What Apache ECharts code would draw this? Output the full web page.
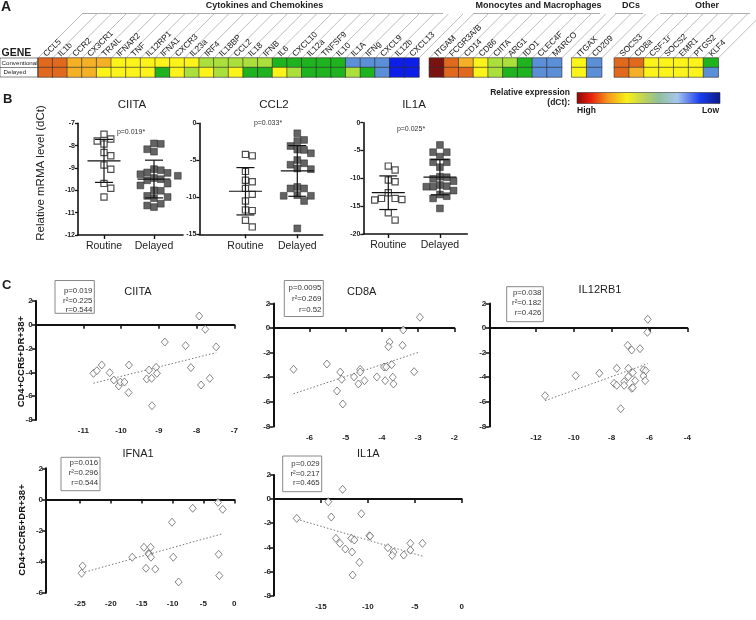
<!DOCTYPE html>
<html><head><meta charset="utf-8">
<script src="https://cdn.jsdelivr.net/npm/echarts@6/dist/echarts.min.js"></script>
<style>html,body{margin:0;padding:0;background:#fff}#c{width:756px;height:620px}</style>
</head><body><div id="c"></div>
<script>
// ================= DATA =================
// Panel A: heatmap levels (1 = highest expression ... 8 = lowest)
const rowNames = ['Delayed', 'Conventional'];
const genesCyto = ['CCL5','IL1b','CCR2','CX3CR1','TRAIL','IFNAR2','TNF','IL12RP1','IFNA1','CXCR3','IL23a','IRF4','IL18BP','CCL2','IL18','IFNB','IL6','CXCL10','IL12a','TNFSF9','IL10','IL1A','IFNg','CXCL9','IL12b','CXCL13'];
const convCyto  = [2,2,3,3,3,4,4,4,4,4,4,5,5,5,5,5,6,6,6,6,6,7,7,7,8,8];
const delCyto   = [2,2,3,3,4,4,4,4,6,4,5,4,5,4,6,6,4,5,6,6,6,5,6,7,8,8];
const genesMono = ['ITGAM','FCGR3A/B','CD14','CD86','CIITA','ARG1','IDO1','CLEC4F','MARCO'];
const convMono  = [1,2,3,4,5,5,6,7,7];
const delMono   = [1,2,2,4,5,6,6,7,7];
const genesDC   = ['ITGAX','CD209'];
const convDC    = [4,7];
const delDC     = [4,7];
const genesOther = ['SOCS3','CD8a','CSF-1r','SOCS2','EMR1','PTGS2','KLF4'];
const convOther  = [2,2,4,4,4,4,6];
const delOther   = [2,3,4,4,4,4,7];

// Panel B: relative mRNA level (dCt)
const bGroups = ['Routine', 'Delayed'];
const ciitaRoutine = [-7.49,-7.70,-7.79,-7.93,-8.31,-8.45,-8.87,-9.06,-9.69,-9.91,-10.30];
const ciitaDelayed = [-7.90,-7.92,-8.16,-8.27,-9.05,-9.10,-9.20,-9.22,-9.28,-9.35,-9.45,-9.50,-9.55,-9.70,-9.78,-10.00,-10.02,-10.25,-10.30,-10.35,-10.60,-10.68,-10.75];
const ccl2Routine = [-4.4,-4.2,-6.5,-7.9,-7.7,-8.8,-9.6,-10.5,-11.7,-11.8,-13.1,-14.0];
const ccl2Delayed = [-1.35,-2.25,-2.4,-3.07,-3.55,-3.6,-4.05,-4.96,-5.4,-5.6,-6.1,-6.2,-8.6,-8.8,-8.8,-9.7,-9.8,-9.8,-10.5,-14.2];
const il1aRoutine = [-7.8,-8.5,-10.3,-10.6,-12.6,-13.6,-13.9,-13.6,-13.8,-16.2,-17.5];
const il1aDelayed = [-4.0,-5.3,-5.3,-6.1,-7.1,-7.1,-8.0,-9.7,-9.8,-10.1,-10.5,-11.4,-11.5,-11.2,-11.5,-12.2,-13.2,-12.9,-13.6,-15.4];
const bPvalues = ['p=0.019*', 'p=0.033*', 'p=0.025*'];

// Panel C: gene dCt (x) vs CD4+CCR5+DR+38+ (y)
const cCiitaX = [-7.93,-7.77,-7.48,-8.84,-8.29,-8.15,-7.88,-7.65,-10.73,-10.64,-10.51,-10.30,-10.19,-10.06,-10.02,-9.91,-9.79,-9.80,-9.32,-9.26,-9.19,-9.07,-9.05,-9.18];
const cCiitaY = [0.74,-0.38,-1.86,-1.45,-1.75,-3.60,-5.06,-4.50,-4.08,-3.86,-3.38,-4.02,-4.64,-5.14,-4.81,-4.81,-3.38,-5.70,-4.55,-3.80,-4.50,-3.57,-4.08,-6.80];
const cCd8aX = [-2.95,-3.41,-3.79,-3.82,-3.43,-6.44,-5.52,-5.15,-5.11,-5.24,-5.08,-4.77,-4.60,-4.60,-4.65,-4.48,-4.14,-3.94,-3.88,-3.73,-3.91,-3.70,-3.68,-3.11];
const cCd8aY = [0.87,-0.16,-1.14,-1.52,-1.41,-3.36,-2.93,-3.58,-4.17,-5.12,-6.18,-3.98,-3.36,-3.58,-4.55,-4.28,-3.98,-3.17,-3.17,-2.98,-4.28,-4.00,-4.55,-3.55];
const cIl12X = [-6.09,-6.11,-7.15,-6.94,-6.50,-11.52,-9.90,-8.65,-7.73,-7.12,-6.88,-7.12,-6.32,-6.20,-6.32,-6.23,-6.76,-7.87,-7.73,-7.34,-7.34,-6.94,-6.88,-7.52];
const cIl12Y = [0.71,-0.35,-1.41,-1.79,-1.68,-5.50,-3.88,-3.68,-3.28,-3.28,-3.63,-3.96,-3.41,-3.47,-3.90,-4.28,-4.28,-4.50,-4.66,-4.37,-4.66,-4.90,-4.85,-6.56];
const cIfnaX = [-2.64,-1.88,-6.74,-10.10,-24.57,-24.73,-16.53,-14.64,-13.55,-13.87,-13.82,-13.50,-14.31,-12.80,-9.89,-9.02,-2.53,-2.43];
const cIfnaY = [-0.19,-0.64,-0.57,-1.47,-4.28,-4.75,-3.72,-3.08,-3.08,-3.47,-3.53,-3.72,-4.43,-4.48,-3.72,-5.31,-3.53,-4.90];
const cIl1aX = [-12.69,-14.22,-13.90,-10.69,-17.58,-9.83,-9.76,-13.40,-12.97,-12.40,-11.76,-11.44,-11.68,-10.90,-11.62,-7.87,-7.26,-7.40,-6.18,-5.47,-5.47,-4.18];
const cIl1aY = [0.80,-0.22,-1.49,-1.22,-1.60,-3.04,-3.07,-3.26,-3.67,-4.14,-3.26,-3.40,-4.39,-5.25,-6.30,-4.03,-4.39,-4.67,-4.64,-3.67,-4.23,-3.67];
const cTitles = ['CIITA','CD8A','IL12RB1','IFNA1','IL1A'];
const cStats = [['p=0.019','r²=0.225','r=0.544'],['p=0.0095','r²=0.269','r=0.52'],['p=0.038','r²=0.182','r=0.426'],['p=0.016','r²=0.296','r=0.544'],['p=0.029','r²=0.217','r=0.465']];

// ================= STYLE / LAYOUT =================
const FONT = '"Liberation Sans", Arial, Helvetica, sans-serif';
const TXT = '#1c1c1c';
const levelColors = ['#7a1212','#e0691e','#f4b126','#fbf31a','#abe03c','#1fb41f','#5b8fd8','#0c1ee8'];

const hmGrids = [
  {left:38, top:58, width:381, height:19},
  {left:429.3, top:58, width:132.4, height:19},
  {left:571.7, top:58, width:30, height:19},
  {left:614.3, top:58, width:104, height:19}
];
const bGrids = [
  {left:78, top:123.3, width:105, height:111.7, xmin:0.48, xmax:2.58, ymin:-12, ymax:-7, yint:1},
  {left:199.3, top:123.3, width:123.4, height:111, xmin:0.11, xmax:2.49, ymin:-15, ymax:0, yint:5},
  {left:363.3, top:122.7, width:104, height:111.3, xmin:0.516, xmax:2.53, ymin:-20, ymax:0, yint:5}
];
const cGrids = [
  {left:35.7, top:301, width:198.6, height:119, xmin:-12.26, xmax:-7, ymin:-8, ymax:2, ticks:[-11,-10,-9,-8,-7]},
  {left:273.3, top:303.4, width:181, height:123, xmin:-7, xmax:-2, ymin:-8, ymax:2, ticks:[-6,-5,-4,-3,-2]},
  {left:489.3, top:303.4, width:198, height:123, xmin:-14.47, xmax:-4, ymin:-8, ymax:2, ticks:[-12,-10,-8,-6,-4]},
  {left:46, top:468.3, width:188.3, height:124.4, xmin:-30.5, xmax:0, ymin:-6, ymax:2, ticks:[-25,-20,-15,-10,-5,0]},
  {left:274, top:474.9, width:187.7, height:120.7, xmin:-20, xmax:0, ymin:-8, ymax:2, ticks:[-15,-10,-5,0]}
];

// ================= HELPERS =================
function hmData(conv, del) {
  const d = [];
  conv.forEach((v, i) => d.push([i, 1, v]));
  del.forEach((v, i) => d.push([i, 0, v]));
  return d;
}
function mean(a) { return a.reduce((s, v) => s + v, 0) / a.length; }
function sd(a) { const m = mean(a); return Math.sqrt(a.reduce((s, v) => s + (v - m) * (v - m), 0) / (a.length - 1)); }
// beeswarm layout: spreads near-equal values sideways around a category centre
function swarm(vals, center, g, size) {
  const yppu = g.height / (g.ymax - g.ymin), xppu = g.width / (g.xmax - g.xmin);
  const order = vals.map((v, i) => i).sort((a, b) => vals[b] - vals[a]);
  const placed = [], out = new Array(vals.length);
  for (const i of order) {
    const yp = vals[i] * yppu; let off = 0;
    for (let t = 0; t < 40; t++) {
      off = t === 0 ? 0 : (t % 2 ? 1 : -1) * Math.ceil(t / 2) * size * 0.5;
      if (placed.every(p => Math.abs(p[0] - off) >= size * 1.0 || Math.abs(p[1] - yp) >= size * 1.1)) break;
    }
    placed.push([off, yp]);
    out[i] = [center + off / xppu, vals[i]];
  }
  return out;
}
function fitLine(xs, ys) {
  const mx = mean(xs), my = mean(ys);
  let sxy = 0, sxx = 0;
  xs.forEach((x, i) => { sxy += (x - mx) * (ys[i] - my); sxx += (x - mx) * (x - mx); });
  const b = sxy / sxx, a = my - b * mx;
  const x0 = Math.min(...xs), x1 = Math.max(...xs);
  return [[x0, a + b * x0], [x1, a + b * x1]];
}
function txt(x, y, text, o) {
  return {type:'text', x, y, silent:true, z:100,
    style: Object.assign({text, fill:TXT, fontFamily:FONT, fontSize:10, align:'center', verticalAlign:'middle'}, o || {})};
}
function hline(x1, y1, x2, y2, color, w) {
  return {type:'line', silent:true, z:100, shape:{x1, y1, x2, y2}, style:{stroke:color, lineWidth:w}};
}

// ================= BUILD OPTION =================
const grid = [], xAxis = [], yAxis = [], series = [];

// ---- Panel A heatmaps ----
const hmGenes = [genesCyto, genesMono, genesDC, genesOther];
const hmConv = [convCyto, convMono, convDC, convOther];
const hmDel = [delCyto, delMono, delDC, delOther];
hmGrids.forEach((g, gi) => {
  grid.push({left:g.left, top:g.top, width:g.width, height:g.height, containLabel:false});
  xAxis.push({gridIndex:gi, type:'category', data:hmGenes[gi], position:'top',
    axisLine:{show:false}, axisTick:{show:false}, splitLine:{show:false}, axisLabel:{show:false}});
  yAxis.push({gridIndex:gi, type:'category', data:rowNames, show:false});
});
hmGrids.forEach((g, gi) => {
  series.push({type:'heatmap', xAxisIndex:gi, yAxisIndex:gi, data:hmData(hmConv[gi], hmDel[gi]),
    itemStyle:{borderColor:'#2a2a2a', borderWidth:0.6}, emphasis:{disabled:true}});
});
// slanted gene labels with separators, placed on the category scale
hmGrids.forEach((g, gi) => {
  const names = hmGenes[gi], n = names.length;
  series.push({type:'custom', xAxisIndex:gi, yAxisIndex:gi, silent:true, clip:false, z:5,
    data: names.map((name, i) => [i, 1]),
    renderItem: (p, api) => {
      const i = api.value(0); const c = api.coord([i, 1]); const s = api.size([1, 1]);
      const x0 = c[0] - s[0] / 2, top = c[1] - s[1] / 2, L = 44;
      const st = {stroke:'#a0a0a0', lineWidth:0.7};
      const ch = [{type:'line', shape:{x1:x0, y1:top, x2:x0 + L, y2:top - L}, style:st}];
      if (i === n - 1) ch.push({type:'line', shape:{x1:x0 + s[0], y1:top, x2:x0 + s[0] + L, y2:top - L}, style:st});
      ch.push({type:'text', x:c[0] - 0.5, y:top - 2.5, rotation:Math.PI / 4,
        style:{text:names[i], fill:'#222', fontFamily:FONT, fontSize:8.3, align:'left', verticalAlign:'middle'}});
      return {type:'group', children:ch};
    }});
});

// ---- Panel B ----
const bRoutine = [ciitaRoutine, ccl2Routine, il1aRoutine];
const bDelayed = [ciitaDelayed, ccl2Delayed, il1aDelayed];
bGrids.forEach((g, k) => {
  const gi = 4 + k;
  grid.push({left:g.left, top:g.top, width:g.width, height:g.height});
  xAxis.push({gridIndex:gi, type:'value', min:g.xmin, max:g.xmax,
    axisLine:{onZero:false, lineStyle:{color:'#111', width:1.6}},
    axisTick:{customValues:[1, 2], length:4, lineStyle:{color:'#111', width:1.4}},
    axisLabel:{customValues:[1, 2], formatter:v => bGroups[Math.round(v) - 1], fontSize:10.5, margin:6, color:'#222', fontFamily:FONT},
    splitLine:{show:false}});
  yAxis.push({gridIndex:gi, type:'value', min:g.ymin, max:g.ymax, interval:g.yint,
    axisLine:{show:true, onZero:false, lineStyle:{color:'#111', width:1.6}},
    axisTick:{show:true, length:3, lineStyle:{color:'#111', width:1.3}},
    axisLabel:{fontSize:7, fontWeight:'bold', margin:3, color:'#222', fontFamily:FONT},
    splitLine:{show:false}});
  series.push({type:'scatter', xAxisIndex:gi, yAxisIndex:gi, data:swarm(bRoutine[k], 1, g, 6.8),
    symbol:'rect', symbolSize:6.2, itemStyle:{color:'#fff', borderColor:'#222', borderWidth:1.2}, z:2});
  series.push({type:'scatter', xAxisIndex:gi, yAxisIndex:gi, data:swarm(bDelayed[k], 2, g, 6.8),
    symbol:'rect', symbolSize:6.8, itemStyle:{color:'#3c3c3c', borderColor:'#222', borderWidth:0.6}, z:2});
  series.push({type:'custom', xAxisIndex:gi, yAxisIndex:gi, silent:true, z:3,
    data:[[1, mean(bRoutine[k]), sd(bRoutine[k])], [2, mean(bDelayed[k]), sd(bDelayed[k])]],
    renderItem:(p, api) => {
      const x = api.value(0), m = api.value(1), s = api.value(2);
      const pm = api.coord([x, m]), pu = api.coord([x, m + s]), pl = api.coord([x, m - s]);
      const st = {stroke:'#111', lineWidth:1.2};
      return {type:'group', children:[
        {type:'line', shape:{x1:pm[0] - 16.5, y1:pm[1], x2:pm[0] + 16.5, y2:pm[1]}, style:st},
        {type:'line', shape:{x1:pu[0], y1:pu[1], x2:pl[0], y2:pl[1]}, style:st},
        {type:'line', shape:{x1:pu[0] - 9, y1:pu[1], x2:pu[0] + 9, y2:pu[1]}, style:st},
        {type:'line', shape:{x1:pl[0] - 9, y1:pl[1], x2:pl[0] + 9, y2:pl[1]}, style:st}
      ]};
    }});
});

// ---- Panel C ----
const cXs = [cCiitaX, cCd8aX, cIl12X, cIfnaX, cIl1aX];
const cYs = [cCiitaY, cCd8aY, cIl12Y, cIfnaY, cIl1aY];
cGrids.forEach((g, k) => {
  const gi = 7 + k;
  grid.push({left:g.left, top:g.top, width:g.width, height:g.height});
  xAxis.push({gridIndex:gi, type:'value', min:g.xmin, max:g.xmax,
    axisLine:{onZero:true, lineStyle:{color:'#111', width:2}},
    axisTick:{customValues:g.ticks, length:4, lineStyle:{color:'#111', width:1.5}},
    axisLabel:{customValues:g.ticks, fontSize:8, fontWeight:'bold', margin:7, color:'#222', fontFamily:FONT},
    splitLine:{show:false}});
  yAxis.push({gridIndex:gi, type:'value', min:g.ymin, max:g.ymax, interval:2,
    axisLine:{show:true, onZero:false, lineStyle:{color:'#111', width:2}},
    axisTick:{show:true, length:4, lineStyle:{color:'#111', width:1.5}},
    axisLabel:{fontSize:8, fontWeight:'bold', margin:3, color:'#222', fontFamily:FONT},
    splitLine:{show:false}});
  series.push({type:'line', xAxisIndex:gi, yAxisIndex:gi, data:fitLine(cXs[k], cYs[k]), symbol:'none', silent:true,
    lineStyle:{type:[1.5, 2], color:'#777', width:1}, z:1});
  series.push({type:'scatter', xAxisIndex:gi, yAxisIndex:gi, data:cXs[k].map((x, i) => [x, cYs[k][i]]),
    symbol:'diamond', symbolSize:[7, 8], itemStyle:{color:'#fff', borderColor:'#444', borderWidth:0.8}, z:2});
});

// ---- Graphic annotations ----
const graphic = [];
graphic.push(txt(1, 7, 'A', {align:'left', fontSize:14, fontWeight:'bold'}));
graphic.push(txt(3, 99, 'B', {align:'left', fontSize:13, fontWeight:'bold'}));
graphic.push(txt(2, 285, 'C', {align:'left', fontSize:13, fontWeight:'bold'}));
// A: headers
graphic.push(txt(1.5, 53, 'GENE', {align:'left', fontSize:10.5, fontWeight:'bold'}));
graphic.push({type:'rect', silent:true, z:100, shape:{x:0, y:58, width:38, height:19}, style:{fill:'none', stroke:'#333', lineWidth:0.6}});
graphic.push(hline(0, 67.5, 38, 67.5, '#333', 0.6));
graphic.push(txt(1.5, 63, 'Conventional', {align:'left', fontSize:6.2}));
graphic.push(txt(3.5, 72.5, 'Delayed', {align:'left', fontSize:6.2}));
const groupHeads = [['Cytokines and Chemokines', 82, 443], ['Monocytes and Macrophages', 473, 600], ['DCs', 615, 643], ['Other', 660, 750]];
groupHeads.forEach(h => {
  graphic.push(txt((h[1] + h[2]) / 2 + 2, 5.5, h[0], {fontSize:9, fontWeight:'bold'}));
  graphic.push(hline(h[1], 13.5, h[2], 13.5, '#999', 0.8));
});
// colour bar legend
graphic.push(txt(570, 93, 'Relative expression', {align:'right', fontSize:8.5, fontWeight:'bold'}));
graphic.push(txt(570, 103, '(dCt):', {align:'right', fontSize:8.5, fontWeight:'bold'}));
graphic.push({type:'rect', silent:true, z:100, shape:{x:577, y:92.5, width:143, height:11},
  style:{stroke:'#333', lineWidth:0.6, fill:new echarts.graphic.LinearGradient(0, 0, 1, 0, [
    {offset:0, color:'#8e0606'}, {offset:0.1, color:'#e8200c'}, {offset:0.22, color:'#f59a1c'},
    {offset:0.35, color:'#f8f01a'}, {offset:0.47, color:'#bcd25a'}, {offset:0.57, color:'#90c09a'},
    {offset:0.7, color:'#a6c6ec'}, {offset:0.86, color:'#1a3cf0'}, {offset:1, color:'#0b1a86'}])}});
graphic.push(txt(577, 110.5, 'High', {align:'left', fontSize:8.5, fontWeight:'bold'}));
graphic.push(txt(719, 110.5, 'Low', {align:'right', fontSize:8.5, fontWeight:'bold'}));
// B texts
graphic.push({type:'text', x:41, y:173, rotation:Math.PI / 2, silent:true, z:100,
  style:{text:'Relative mRMA level (dCt)', fill:'#222', fontFamily:FONT, fontSize:11.5, align:'center', verticalAlign:'middle'}});
[['CIITA', 132], ['CCL2', 274], ['IL1A', 414]].forEach(t => graphic.push(txt(t[1], 105, t[0], {fontSize:11.5})));
graphic.push(txt(131, 131.7, bPvalues[0], {fontSize:7, fill:'#333'}));
graphic.push(txt(268, 123.3, bPvalues[1], {fontSize:7, fill:'#333'}));
graphic.push(txt(411, 129.3, bPvalues[2], {fontSize:7, fill:'#333'}));
// C texts
[[21.7, 361.7], [22, 530]].forEach(p => graphic.push({type:'text', x:p[0], y:p[1], rotation:Math.PI / 2, silent:true, z:100,
  style:{text:'CD4+CCR5+DR+38+', fill:'#111', fontFamily:FONT, fontSize:9.5, fontWeight:'bold', align:'center', verticalAlign:'middle'}}));
const cTitlePos = [[138, 291.7], [361.7, 291.7], [600, 290], [138, 454], [368.3, 454]];
cTitles.forEach((t, k) => graphic.push(txt(cTitlePos[k][0], cTitlePos[k][1], t, {fontSize:11})));
const cBoxes = [
  {x:55, y:280.5, w:39.3, h:32.8, ly:[291, 300.5, 309.5]},
  {x:284.3, y:280.5, w:39, h:36, ly:[288, 299, 309.5]},
  {x:506.7, y:286.7, w:36.6, h:35, ly:[292.7, 303.3, 313.3]},
  {x:61, y:457.3, w:39, h:33.4, ly:[462.5, 473.3, 482.5]},
  {x:282.7, y:456, w:39, h:35.7, ly:[464, 474, 483.3]}
];
cBoxes.forEach((b, k) => {
  graphic.push({type:'rect', silent:true, z:99, shape:{x:b.x, y:b.y, width:b.w, height:b.h}, style:{fill:'#fff', stroke:'#888', lineWidth:1}});
  cStats[k].forEach((s, j) => graphic.push(txt(b.x + b.w - 2, b.ly[j], s, {align:'right', fontSize:7.8, fill:'#333'})));
});

const option = {
  animation:false,
  backgroundColor:'#fff',
  textStyle:{fontFamily:FONT},
  grid, xAxis, yAxis, series, graphic,
  visualMap:{type:'piecewise', show:false, dimension:2, seriesIndex:[0, 1, 2, 3],
    pieces: levelColors.map((c, i) => ({value:i + 1, color:c}))}
};
const chart = echarts.init(document.getElementById('c'), null, {renderer:'canvas', width:756, height:620});
chart.setOption(option);
</script>
</body></html>
